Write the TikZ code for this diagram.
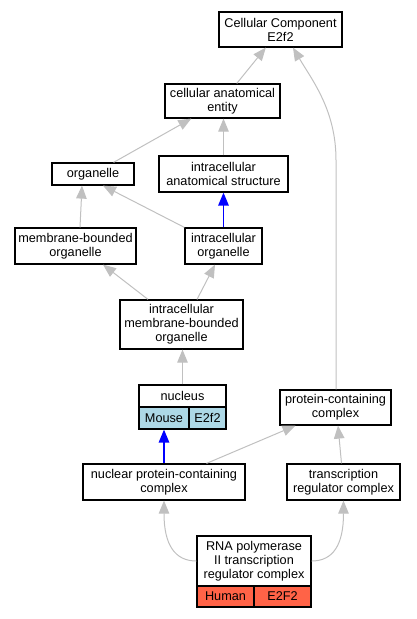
\documentclass[tikz,border=0pt]{standalone}
\usepackage{fontspec}
\setmainfont{Liberation Sans}
\usetikzlibrary{arrows.meta}
\definecolor{edgegray}{HTML}{C0C0C0}
\definecolor{lblue}{HTML}{ADD8E6}
\definecolor{tomato}{HTML}{FF6347}
\tikzset{
  gobox/.style={draw=black, line width=1.2pt, fill=white, align=center, inner sep=0pt,
    font=\fontsize{12.7}{14}\selectfont},
  gedge/.style={draw=edgegray, line width=1pt, -{Triangle[width=10.5pt,length=13pt]}},
  bedge/.style={draw=blue, line width=1.4pt, -{Triangle[width=10.5pt,length=13pt]}}
}
\begin{document}
\begin{tikzpicture}[x=1pt,y=-1pt]
\useasboundingbox (0,0) rectangle (416,619);
\node[gobox, minimum width=123, minimum height=35] (cc) at (280.5,29.5) {Cellular Component\\E2f2};
\node[gobox, minimum width=115, minimum height=34] (cae) at (222.5,101) {cellular anatomical\\entity};
\node[gobox, minimum width=82, minimum height=22] (org) at (93,174) {organelle};
\node[gobox, minimum width=129, minimum height=36] (ias) at (223.5,174) {intracellular\\anatomical structure};
\node[gobox, minimum width=121, minimum height=36] (mbo) at (75.5,246) {membrane-bounded\\organelle};
\node[gobox, minimum width=77, minimum height=36] (io) at (223.5,246) {intracellular\\organelle};
\node[gobox, minimum width=123, minimum height=49] (imbo) at (181.5,324.5) {intracellular\\membrane-bounded\\organelle};
\node[gobox, minimum width=87, minimum height=22] (nuct) at (182.5,396) {nucleus};
\node[gobox, fill=lblue, minimum width=50, minimum height=22] (nucm) at (164,418) {Mouse};
\node[gobox, fill=lblue, minimum width=37, minimum height=22] (nuce) at (207.5,418) {E2f2};
\node[gobox, minimum width=111, minimum height=35] (pcc) at (335.5,407.5) {protein-containing\\complex};
\node[gobox, minimum width=162, minimum height=36] (npc) at (164,482) {nuclear protein-containing\\complex};
\node[gobox, minimum width=113, minimum height=36] (trc) at (343.5,482) {transcription\\regulator complex};
\node[gobox, minimum width=114, minimum height=50] (rna) at (254,561) {RNA polymerase\\II transcription\\regulator complex};
\node[gobox, fill=tomato, minimum width=57, minimum height=21] (rnah) at (225.5,596.5) {Human};
\node[gobox, fill=tomato, minimum width=57, minimum height=21] (rnae) at (282.5,596.5) {E2F2};
\coordinate (bend) at (336,160);

\draw[gedge] (cae) -- (cc);
\draw[gedge] (org) -- (cae);
\draw[gedge] (ias.north) -- (ias.north |- cae.south);
\draw[gedge] ([xshift=4.5]mbo.north) -- ([xshift=-11]org.south);
\draw[gedge] (io.north west) -- ([xshift=10]org.south);
\draw[bedge] (io.north) -- (ias.south);
\draw[gedge] ([xshift=-33.5]imbo.north) -- ([xshift=27.5]mbo.south);
\draw[gedge] ([xshift=15.5]imbo.north) -- ([xshift=-8.5]io.south);
\draw[gedge] (nuct.north) -- (nuct.north |- imbo.south);
\draw[bedge] (npc.north) -- (nucm.south);
\draw[gedge] ([xshift=42.5]npc.north) -- ([xshift=-40]pcc.south);
\draw[gedge] ([xshift=-2]trc.north) -- ([xshift=2.5]pcc.south);
\draw[gedge] ([xshift=0.5]pcc.north) -- (bend) .. controls (336,110) and (312,80) .. ([xshift=12.5]cc.south);
\draw[gedge] (rna.west) .. controls (175,561) and (164,545) .. (npc.south);
\draw[gedge] (rna.east) .. controls (333,561) and (343.5,545) .. (trc.south);
\end{tikzpicture}
\end{document}
